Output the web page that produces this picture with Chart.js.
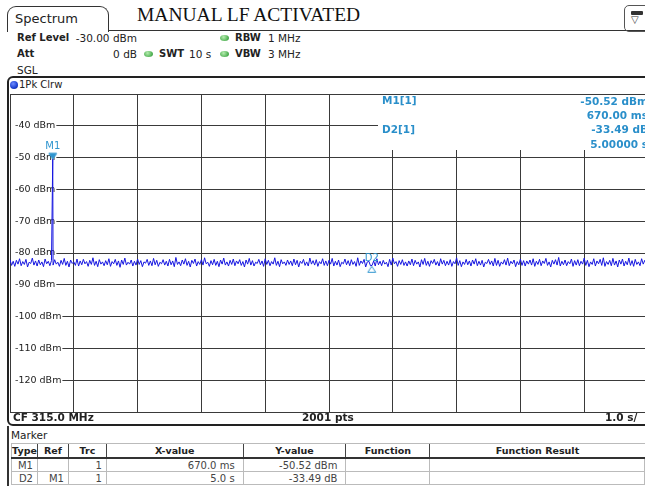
<!DOCTYPE html>
<html>
<head>
<meta charset="utf-8">
<script src="https://cdn.jsdelivr.net/npm/chart.js@4.4.1/dist/chart.umd.min.js"></script>
<style>
  html, body { margin: 0; padding: 0; width: 645px; height: 486px; overflow: hidden; background: #fff; }
  body { position: relative; font-family: 'DejaVu Sans', sans-serif; color: #222; }
  .t { position: absolute; white-space: nowrap; line-height: 12px; height: 12px; font-size: 10.5px; }
  .b { font-weight: bold; font-size: 10px; }
  .dot { position: absolute; width: 9px; height: 6px; border-radius: 50%;
         background: radial-gradient(circle at 40% 35%, #b6ecb0 0%, #4caf50 70%, #2e7d32 100%); }
  #tab { position: absolute; left: 7px; top: 6px; width: 100px; height: 25px; border: 1.5px solid #333;
         border-bottom: none; border-radius: 9px 9px 0 0; background: #fff; z-index: 2; }
  #hline { position: absolute; left: 108px; top: 30px; width: 540px; height: 0; border-top: 1.5px solid #333; }
  #icon { position: absolute; left: 624px; top: 5px; width: 24px; height: 25px; border: 1px solid #555;
          border-radius: 5px; }
  #frame { position: absolute; left: 7px; top: 76px; width: 700px; height: 346px; border: 2px solid #222;
           border-radius: 6px; z-index: 1; }
  #chart { position: absolute; left: 8px; top: 92px; z-index: 2; }
  #readout { position: absolute; left: 378px; top: 95px; width: 280px; height: 55px; background: #fff; z-index: 3; }
  #readout .t { font-weight: bold; color: #2a8fca; }
  #tbl { position: absolute; left: 11px; top: 443px; border-collapse: collapse; table-layout: fixed;
         font-size: 10px; z-index: 2; }
  #tbl th { font-weight: bold; font-size: 9.5px; height: 13px; padding: 0; text-align: center; white-space: nowrap;
            border-left: 1.5px solid #444; border-bottom: 2px solid #333; border-top: 1px solid #bbb; color: #222; }
  #tbl th:first-child { border-left: 1px solid #bbb; }
  #tbl td { height: 12px; padding: 0 4px 0 0; text-align: right; border: 1px solid #bbb; color: #444; line-height: 11px; }
  #tbl td.w { padding-right: 8px; }
  #leftbar { position: absolute; left: 7px; top: 426px; width: 2px; height: 60px; background: #333; }
</style>
</head>
<body>
<div id="tab"></div>
<div id="hline"></div>
<div class="t" style="left:15px; top:12px; font-size:13px; line-height:14px; height:14px; z-index:3;">Spectrum</div>
<div class="t" style="left:137px; top:4px; font-family:'Liberation Serif', serif; font-size:19.5px; line-height:22px; height:22px; color:#111;">MANUAL LF ACTIVATED</div>
<div id="icon">
  <div style="position:absolute; left:6px; top:5px; width:12px; height:4px; background:#333; border-radius:1px;"></div>
  <div style="position:absolute; left:6px; top:9px; font-size:10px; line-height:10px; color:#333;">&#9661;</div>
</div>

<div class="t b" style="left:17px; top:32px;">Ref Level</div>
<div class="t" style="right:508px; top:32px;">-30.00 dBm</div>
<div class="dot" style="left:220px; top:35px;"></div>
<div class="t b" style="left:235px; top:32px;">RBW</div>
<div class="t" style="left:268px; top:32px;">1 MHz</div>

<div class="t b" style="left:17px; top:48px;">Att</div>
<div class="t" style="right:508px; top:48px;">0 dB</div>
<div class="dot" style="left:144px; top:51px;"></div>
<div class="t b" style="left:159px; top:48px;">SWT</div>
<div class="t" style="left:189px; top:48px;">10 s</div>
<div class="dot" style="left:220px; top:51px;"></div>
<div class="t b" style="left:235px; top:48px;">VBW</div>
<div class="t" style="left:268px; top:48px;">3 MHz</div>

<div class="t" style="left:17px; top:64px;">SGL</div>

<div id="frame"></div>
<div style="position:absolute; left:10px; top:81px; width:8px; height:8px; border-radius:50%; background:radial-gradient(circle at 40% 35%, #6f8cff 0%, #1a3fd0 60%, #0c2280 100%); z-index:3;"></div>
<div class="t" style="left:19px; top:79px; font-size:10px; z-index:3;">1Pk Clrw</div>

<canvas id="chart" width="652" height="324"></canvas>

<div id="readout">
  <div class="t" style="left:4px; top:-1px;">M1[1]</div>
  <div class="t" style="right:10px; top:0px;">-50.52 dBm</div>
  <div class="t" style="right:10px; top:14px;">670.00 ms</div>
  <div class="t" style="left:4px; top:28px;">D2[1]</div>
  <div class="t" style="right:10px; top:28px;">-33.49 dB</div>
  <div class="t" style="right:10px; top:43px;">5.00000 s</div>
</div>

<div class="t b" style="left:13px; top:411px; z-index:3; font-size:10.5px;">CF 315.0 MHz</div>
<div class="t b" style="left:302px; top:411px; z-index:3; font-size:10.5px;">2001 pts</div>
<div class="t b" style="left:605px; top:411px; z-index:3; font-size:10.5px;">1.0 s/</div>

<div id="leftbar"></div>
<div class="t" style="left:11px; top:429px;">Marker</div>
<table id="tbl">
  <colgroup>
    <col style="width:26px"><col style="width:31px"><col style="width:38px"><col style="width:137px">
    <col style="width:103px"><col style="width:84px"><col style="width:215px">
  </colgroup>
  <tr><th>Type</th><th>Ref</th><th>Trc</th><th>X-value</th><th>Y-value</th><th>Function</th><th>Function Result</th></tr>
  <tr><td>M1</td><td></td><td>1</td><td class="w">670.0 ms</td><td class="w">-50.52 dBm</td><td></td><td></td></tr>
  <tr><td>D2</td><td>M1</td><td>1</td><td class="w">5.0 s</td><td class="w">-33.49 dB</td><td></td><td></td></tr>
</table>

<script>
// sweep: 10 s, trace every 25 ms
const sweepTime = 10;
const sampleStep = 0.025;
const traceLevels = [
  -82.1,-83.9,-82.6,-84.2,-82.3,-83.5,-81.8,-84.0,-82.7,-83.6,-82.0,-84.4,-82.9,-83.3,-81.6,-83.8,-82.5,-84.1,-82.2,-83.7,-82.8,-84.3,-81.9,-83.4,-82.6,
  -84.0,-82.4,-83.8,-82.1,-83.5,-82.9,-84.2,-82.3,-83.6,-81.7,-83.9,-82.6,-84.4,-82.2,-83.3,-82.8,-83.9,-81.9,-84.1,-82.5,-83.7,-82.0,-83.4,-82.7,-84.2,
  -82.3,-83.6,-81.5,-83.9,-82.6,-84.3,-82.1,-83.5,-82.8,-84.0,-82.4,-83.7,-81.8,-84.2,-82.7,-83.4,-82.0,-83.9,-82.5,-84.5,-82.2,-83.6,-81.6,-83.8,-82.9,
  -83.5,-82.2,-84.1,-82.6,-83.8,-81.9,-83.6,-82.4,-84.3,-82.8,-83.2,-82.0,-83.9,-82.5,-84.0,-81.7,-83.7,-82.3,-84.2,-82.9,-83.4,-82.1,-83.8,-82.6,-84.1,
  -82.0,-83.7,-82.5,-84.3,-81.4,-83.6,-82.8,-84.0,-82.2,-83.5,-81.8,-83.9,-82.6,-84.4,-82.3,-83.3,-81.9,-84.1,-82.7,-83.6,-82.1,-83.8,-81.5,-83.4,-82.9,
  -84.2,-82.4,-83.7,-82.0,-83.9,-82.6,-84.3,-82.2,-83.5,-81.6,-83.8,-82.8,-84.1,-82.3,-83.6,-81.9,-84.0,-82.5,-83.4,-82.1,-83.9,-82.7,-84.4,-82.2,-83.5,
  -81.7,-83.8,-82.4,-84.1,-82.9,-83.3,-82.0,-83.7,-82.5,-84.2,-81.8,-83.6,-82.3,-84.0,-82.7,-83.5,-81.5,-83.9,-82.6,-84.3,-82.1,-83.4,-82.8,-83.9,-82.2,
  -83.6,-82.5,-84.0,-81.9,-83.7,-82.3,-84.4,-82.6,-83.3,-82.0,-83.9,-82.8,-84.1,-81.6,-83.5,-82.4,-83.8,-82.1,-84.2,-82.7,-83.4,-81.8,-83.9,-82.5,-84.0,
  -82.3,-83.5,-81.7,-84.1,-82.6,-83.8,-82.2,-84.3,-82.9,-83.4,-81.9,-83.7,-82.4,-84.0,-82.1,-83.6,-82.7,-84.2,-81.5,-83.9,-82.5,-83.3,-82.0,-84.4,-82.8,
  -82.6,-84.0,-83.9,-82.5,-84.1,-81.8,-83.7,-82.6,-84.0,-82.3,-83.5,-82.9,-84.3,-82.0,-83.8,-81.6,-83.4,-82.7,-84.2,-82.4,-83.6,-82.1,-83.9,-82.8,-84.1,
  -82.5,-83.7,-81.9,-84.0,-82.3,-83.5,-82.8,-84.4,-82.1,-83.6,-81.7,-83.9,-82.6,-84.2,-82.4,-83.3,-82.0,-83.8,-82.7,-84.1,-81.8,-83.5,-82.3,-84.0,-82.6,
  -83.8,-82.1,-84.2,-82.7,-83.4,-81.5,-83.9,-82.4,-84.3,-82.8,-83.6,-82.0,-83.7,-82.5,-84.1,-82.2,-83.5,-81.8,-84.0,-82.6,-83.8,-82.3,-84.4,-82.9,-83.3,
  -82.0,-83.6,-82.5,-84.1,-81.7,-83.9,-82.3,-84.2,-82.8,-83.5,-82.1,-83.8,-81.6,-84.0,-82.6,-83.4,-82.2,-84.3,-82.7,-83.7,-81.9,-83.9,-82.4,-84.1,-82.5,
  -83.5,-82.2,-83.8,-81.8,-84.2,-82.6,-83.6,-82.0,-84.0,-82.5,-83.3,-81.7,-83.9,-82.8,-84.4,-82.3,-83.5,-82.1,-83.8,-81.4,-84.1,-82.6,-83.7,-82.2,-84.0,
  -82.7,-83.4,-81.9,-84.2,-82.4,-83.8,-82.1,-84.0,-82.6,-83.5,-81.6,-83.9,-82.3,-84.3,-82.8,-83.6,-81.8,-84.1,-82.5,-83.4,-82.0,-83.9,-81.5,-84.2,-82.7,
  -83.6,-82.3,-84.0,-81.7,-83.8,-82.5,-84.4,-82.2,-83.5,-81.9,-84.1,-82.6,-83.7,-81.6,-83.9,-82.4,-84.2,-82.0,-83.6,-82.8,-84.0,-81.8,-83.5,-82.3,-83.9,
  -82.6
];
// burst caught by M1
const burstTime = 0.67;
const burstLevel = -50.52;

const markerNames = ['M1', 'D2'];
const markerTimes = [0.67, 5.67];
const markerLevels = [-50.52, -84.01];

const yTicks = [-130, -120, -110, -100, -90, -80, -70, -60, -50, -40, -30];

const traceColor = '#1616e0';
const markerColor = '#2f95cf';
const gridColor = '#3a3a3a';

// trace points, with the burst sample slotted in
const tracePoints = [];
traceLevels.forEach((lvl, i) => {
  const t = +(i * sampleStep).toFixed(3);
  if (t > burstTime && tracePoints.length && tracePoints[tracePoints.length - 1].x < burstTime) {
    tracePoints.push({ x: burstTime, y: burstLevel });
  }
  tracePoints.push({ x: t, y: lvl });
});

// marker glyphs: tip sits on the marker value
function markerGlyph(down, filled) {
  const c = document.createElement('canvas');
  c.width = 12; c.height = 24;
  const g = c.getContext('2d');
  g.beginPath();
  if (down) { g.moveTo(2, 6); g.lineTo(10, 6); g.lineTo(6, 12); }
  else { g.moveTo(6, 12.5); g.lineTo(10, 18.5); g.lineTo(2, 18.5); }
  g.closePath();
  g.strokeStyle = markerColor;
  g.lineWidth = 1;
  if (filled) { g.fillStyle = markerColor; g.fill(); }
  g.stroke();
  return c;
}
const glyphs = [markerGlyph(true, true), markerGlyph(false, false)];
const labelOffsets = [-13, -7];

const markerLabels = {
  id: 'markerLabels',
  afterDatasetsDraw(chart) {
    const meta = chart.getDatasetMeta(1);
    const ctx = chart.ctx;
    ctx.save();
    ctx.font = '10px "DejaVu Sans"';
    ctx.fillStyle = markerColor;
    ctx.textAlign = 'center';
    ctx.textBaseline = 'middle';
    meta.data.forEach((pt, i) => {
      ctx.fillText(markerNames[i], pt.x, pt.y + labelOffsets[i]);
    });
    ctx.restore();
  }
};

function noPadding(s, horizontal) {
  if (horizontal) s.height = 0; else s.width = 0;
  s.paddingTop = 0; s.paddingBottom = 0; s.paddingLeft = 0; s.paddingRight = 0;
}

new Chart(document.getElementById('chart'), {
  type: 'line',
  data: {
    datasets: [
      {
        data: tracePoints,
        borderColor: traceColor,
        borderWidth: 1,
        pointRadius: 0,
        tension: 0,
        fill: false
      },
      {
        type: 'scatter',
        data: markerTimes.map((t, i) => ({ x: t, y: markerLevels[i] })),
        pointStyle: glyphs,
        pointRadius: 6
      }
    ]
  },
  options: {
    responsive: false,
    animation: false,
    devicePixelRatio: 1,
    layout: { autoPadding: false, padding: { left: 2, top: 2, right: 12, bottom: 4 } },
    plugins: { legend: { display: false }, tooltip: { enabled: false } },
    scales: {
      x: {
        type: 'linear',
        min: 0,
        max: sweepTime,
        ticks: { display: false, stepSize: 1 },
        grid: { color: gridColor, lineWidth: 1, drawTicks: false },
        border: { color: gridColor },
        afterFit: s => noPadding(s, true)
      },
      y: {
        min: yTicks[0],
        max: yTicks[yTicks.length - 1],
        afterBuildTicks: s => { s.ticks = yTicks.map(v => ({ value: v })); },
        ticks: {
          mirror: true,
          padding: 5,
          color: '#222',
          font: { family: 'DejaVu Sans', size: 9.5 },
          callback: v => (v <= -130 || v >= -30) ? '' : v + ' dBm',
          showLabelBackdrop: c => c.tick && c.tick.value > -130 && c.tick.value < -30,
          backdropColor: '#fff',
          backdropPadding: { left: 4, right: 1, top: 0, bottom: 0 }
        },
        grid: { color: gridColor, lineWidth: 1, drawTicks: false },
        border: { color: gridColor },
        afterFit: s => noPadding(s, false)
      }
    }
  },
  plugins: [markerLabels]
});
</script>
</body>
</html>
